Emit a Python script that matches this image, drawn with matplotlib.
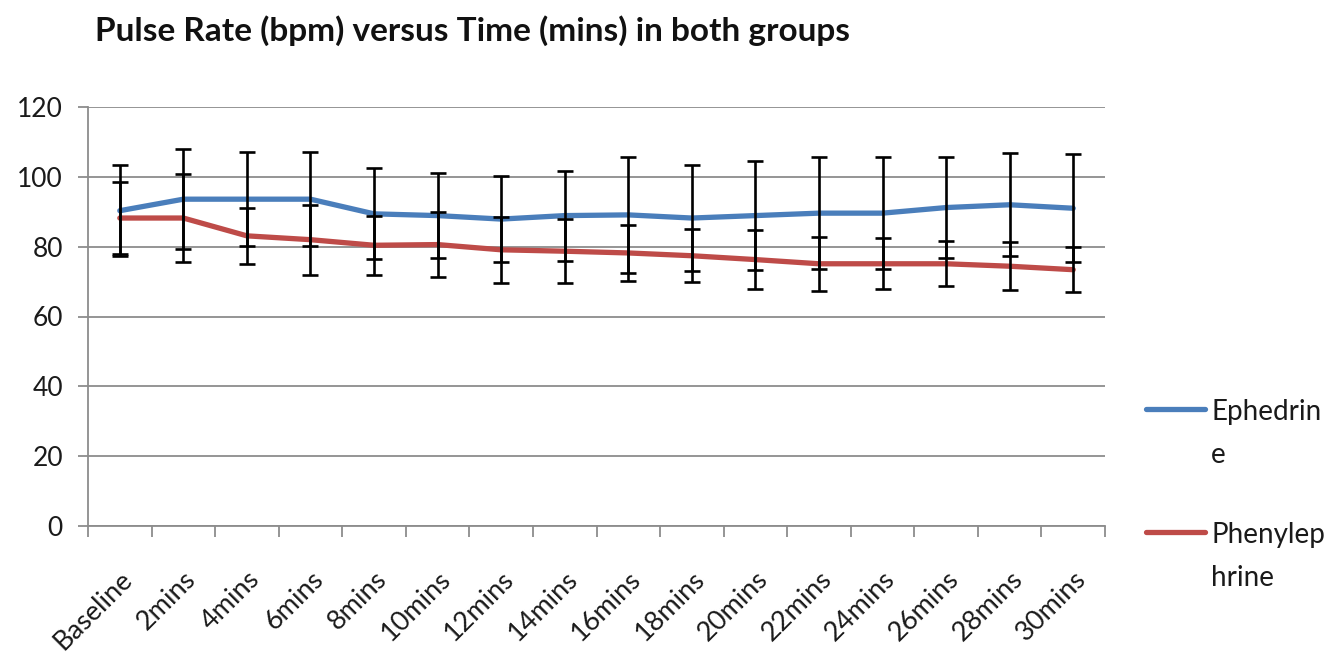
import matplotlib
matplotlib.use("Agg")
import matplotlib.pyplot as plt
from matplotlib.lines import Line2D
from matplotlib.transforms import ScaledTranslation
import numpy as np

categories = ["Baseline", "2mins", "4mins", "6mins", "8mins", "10mins", "12mins", "14mins",
              "16mins", "18mins", "20mins", "22mins", "24mins", "26mins", "28mins", "30mins"]
series_names = ["Ephedrine", "Phenylephrine"]
ephedrine_mean = [90.3, 93.6, 93.6, 93.6, 89.4, 88.9, 87.9, 88.9, 89.1, 88.2, 88.9, 89.6, 89.6, 91.2, 92.0, 91.0]
ephedrine_sd = [13.0, 14.3, 13.5, 13.5, 13.0, 12.1, 12.2, 12.9, 16.5, 15.2, 15.5, 16.0, 16.0, 14.4, 14.7, 15.5]
phenylephrine_mean = [88.2, 88.2, 83.1, 82.0, 80.4, 80.6, 79.1, 78.7, 78.2, 77.4, 76.3, 75.1, 75.1, 75.1, 74.4, 73.4]
phenylephrine_sd = [10.4, 12.5, 8.0, 10.0, 8.4, 9.3, 9.5, 9.1, 8.1, 7.6, 8.5, 7.7, 7.3, 6.5, 6.9, 6.4]
y_ticks = [0, 20, 40, 60, 80, 100, 120]
title = "Pulse Rate (bpm) versus Time (mins) in both groups"

colors = ["#4A7EBB", "#BE4B48"]
FONT = "Lato"
TXT = "#1a1a1a"
W, H = 1332, 658
fig = plt.figure(figsize=(W / 100, H / 100), dpi=100)
L, R, T, B = 88, 1105, 107, 526
ax = fig.add_axes([L / W, 1 - B / H, (R - L) / W, (B - T) / H])

x = np.arange(len(categories))
means = [ephedrine_mean, phenylephrine_mean]
sds = [ephedrine_sd, phenylephrine_sd]
for m, c in zip(means, colors):
    ax.plot(x, m, color=c, lw=3.8, solid_capstyle="round", zorder=3)
for m, s in zip(means, sds):
    ax.errorbar(x, m, yerr=s, fmt="none", ecolor="black", elinewidth=1.9,
                capsize=5.5, capthick=1.9, zorder=4)

ax.set_xlim(-0.5, len(categories) - 0.5)
ax.set_ylim(0, 120)
ax.set_yticks(y_ticks)
ax.set_yticklabels([str(v) for v in y_ticks], fontsize=19, family=FONT, color=TXT)
ax.yaxis.grid(True, color="#8c8c8c", lw=1.3)
ax.set_axisbelow(True)
ax.set_xticks(x)
ax.set_xticklabels(categories, rotation=45, ha="right", rotation_mode="anchor",
                   fontsize=19.5, family=FONT, color=TXT)
shift = ScaledTranslation(-6 / 100, 0, fig.dpi_scale_trans)
for lab in ax.get_xticklabels():
    lab.set_transform(lab.get_transform() + shift)
ax.set_xticks(np.arange(-0.5, len(categories), 1), minor=True)
ax.tick_params(axis="x", which="major", length=0, pad=29)
ax.tick_params(axis="x", which="minor", length=8, color="#8c8c8c", width=1.3)
ax.tick_params(axis="y", length=7, color="#8c8c8c", width=1.3, pad=11)
for sp in ["top", "right"]:
    ax.spines[sp].set_visible(False)
for sp in ["left", "bottom"]:
    ax.spines[sp].set_color("#8c8c8c")
    ax.spines[sp].set_linewidth(1.3)

fig.text(95 / W, 1 - 31 / H, title, fontsize=24, fontweight="bold", family=FONT,
         ha="left", va="center", color="#111111")

# legend (manual, wrapped labels like the source)
leg_y = [409, 532]
for name, c, yy in zip(series_names, colors, leg_y):
    fig.add_artist(Line2D([1146 / W, 1205 / W], [1 - yy / H, 1 - yy / H], color=c, lw=3.8,
                          solid_capstyle="round", transform=fig.transFigure))
    parts = [name[:8], name[8:]]
    for k, part in enumerate(parts):
        fig.text(1211 / W, 1 - (yy + 11 + 43 * k) / H, part, fontsize=20, family=FONT,
                 ha="left", va="baseline", color=TXT)

fig.savefig("out.png", dpi=100)
